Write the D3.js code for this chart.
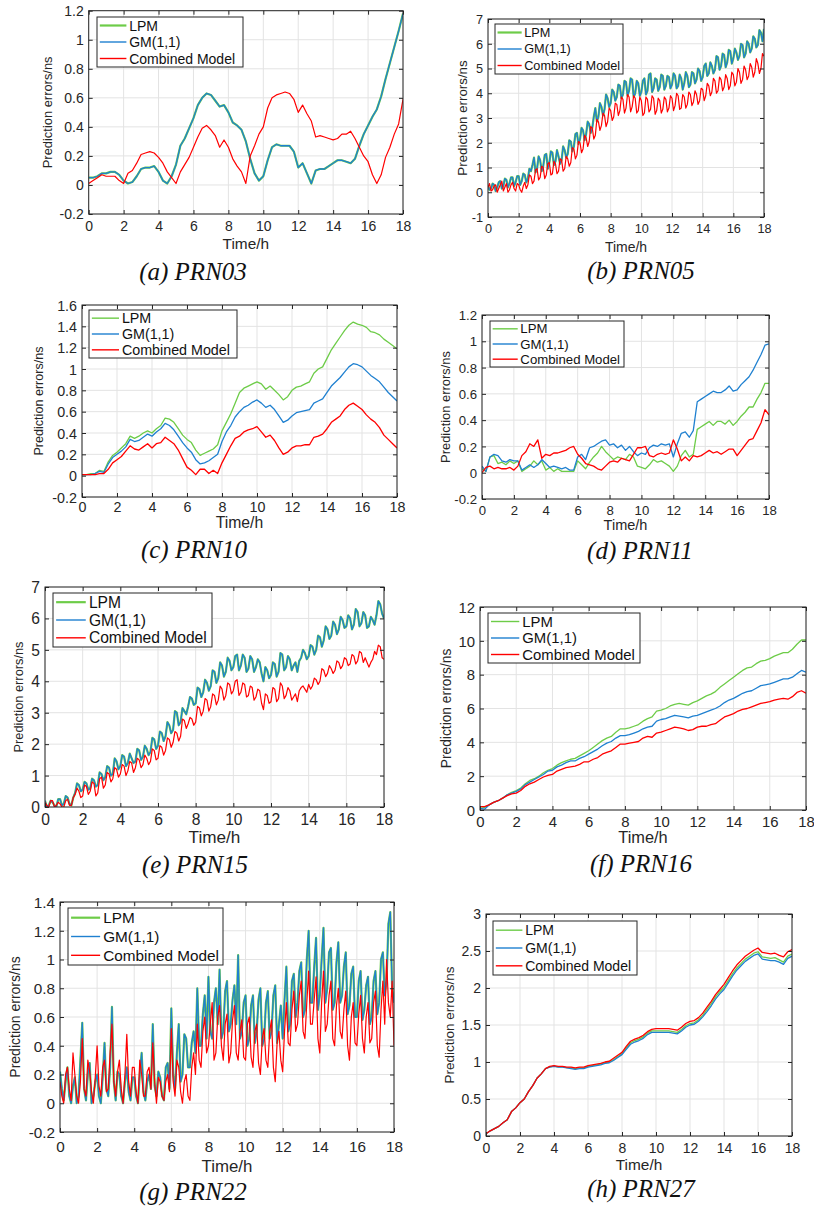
<!DOCTYPE html>
<html><head><meta charset="utf-8">
<script src="https://cdn.jsdelivr.net/npm/d3@7"></script>
<style>body{margin:0;background:#fff}</style>
</head><body><svg id="chart" width="814" height="1209"></svg>
<script>
// ---------- data ----------
const seriesNames = ["LPM", "GM(1,1)", "Combined Model"];
const xTicks = [0, 2, 4, 6, 8, 10, 12, 14, 16, 18];
const xLabel = "Time/h";
const yLabel = "Prediction errors/ns";

const ticksA = [-0.2, 0, 0.2, 0.4, 0.6, 0.8, 1, 1.2];
const ticksB = [-1, 0, 1, 2, 3, 4, 5, 6, 7];
const ticksC = [-0.2, 0, 0.2, 0.4, 0.6, 0.8, 1, 1.2, 1.4, 1.6];
const ticksD = [-0.2, 0, 0.2, 0.4, 0.6, 0.8, 1, 1.2];
const ticksE = [0, 1, 2, 3, 4, 5, 6, 7];
const ticksF = [0, 2, 4, 6, 8, 10, 12];
const ticksG = [-0.2, 0, 0.2, 0.4, 0.6, 0.8, 1, 1.2, 1.4];
const ticksH = [0, 0.5, 1, 1.5, 2, 2.5, 3];

// (a) PRN03, sampled every 0.25 h over 0..18 h
const a_gm = [0.05,0.05,0.06,0.08,0.08,0.09,0.09,0.07, 0.03,0.01,0.02,0.06,0.11,0.12,0.12,0.13,
  0.09,0.03,0.01,0.06,0.14,0.27,0.32,0.39, 0.46,0.55,0.60,0.63,0.62,0.58,0.54,0.55,
  0.50,0.43,0.41,0.38,0.30,0.18,0.08,0.03, 0.06,0.17,0.26,0.28,0.27,0.27,0.27,0.23,
  0.12,0.15,0.08,0.01,0.10,0.11,0.11,0.13, 0.15,0.17,0.17,0.16,0.15,0.18,0.27,0.35,
  0.41,0.47,0.52,0.61,0.73,0.84,0.95,1.06, 1.18];
const a_lpm = a_gm;
const a_cm = [0.01,0.03,0.05,0.07,0.06,0.06,0.06,0.03, 0.01,0.08,0.10,0.15,0.21,0.22,0.23,0.22,
  0.19,0.15,0.09,0.05,0.01,0.09,0.14,0.19, 0.26,0.33,0.39,0.41,0.38,0.34,0.26,0.31,
  0.26,0.18,0.13,0.09,0.01,0.20,0.27,0.35, 0.40,0.53,0.60,0.62,0.63,0.64,0.63,0.59,
  0.50,0.55,0.49,0.44,0.33,0.34,0.33,0.32, 0.31,0.32,0.35,0.35,0.37,0.32,0.26,0.20,
  0.16,0.07,0.01,0.07,0.19,0.26,0.35,0.42, 0.59];

// (b) PRN05, sampled every 0.1 h
const b_gm = [
  0.25,0.10,0.15,0.35,0.30,0.05,0.20,0.40,0.45,0.15,0.25,0.55,0.50,0.20,0.35,0.60,0.60,0.25,0.40,0.65,
  0.65,0.30,0.45,0.75,0.70,0.40,0.55,0.95,0.85,1.10,1.40,0.80,0.95,1.45,1.30,0.85,1.05,1.50,1.55,0.95,
  1.20,1.65,1.60,1.10,1.25,1.70,1.45,1.15,1.30,1.85,1.70,1.40,1.55,2.10,2.05,1.65,1.85,2.35,2.40,1.95,
  2.15,2.60,2.50,2.10,2.35,2.85,2.75,2.40,2.60,3.05,3.40,2.85,3.05,3.60,3.45,3.10,3.35,3.95,3.80,3.45,
  3.60,4.15,4.05,3.70,3.85,4.35,4.30,3.80,3.95,4.50,4.45,3.90,4.10,4.60,4.55,3.85,4.00,4.50,4.40,3.90,
  4.05,4.50,4.60,3.95,4.10,4.75,4.80,4.05,4.20,4.60,4.55,4.10,4.25,4.75,4.70,4.15,4.30,4.70,4.65,4.20,
  4.35,4.80,4.70,4.20,4.30,4.75,4.60,4.15,4.40,4.85,4.70,4.25,4.35,4.85,4.80,4.40,4.55,5.00,4.90,4.50,
  4.65,5.10,5.20,4.70,4.80,5.25,5.10,4.80,4.95,5.50,5.45,4.95,5.10,5.60,5.55,5.05,5.25,5.75,5.70,5.20,
  5.40,5.80,5.65,5.35,5.50,6.00,5.95,5.45,5.60,6.10,6.00,5.65,5.80,6.30,6.20,5.85,5.95,6.55,6.45,6.10,
  6.60];
const b_lpm = b_gm;
const b_cm = [
  0.20,0.35,0.05,0.10,0.25,0.30,0.00,0.15,0.30,0.45,0.05,0.20,0.35,0.00,0.10,0.30,0.40,0.15,0.05,0.35,
  0.30,0.10,0.00,0.25,0.40,0.15,0.30,0.70,0.65,0.35,0.45,0.90,0.95,0.50,0.60,1.05,1.00,0.55,0.70,1.15,
  1.20,0.70,0.75,1.25,1.15,0.75,0.85,1.35,1.30,0.85,0.95,1.45,1.35,1.05,1.20,1.80,1.75,1.35,1.50,2.05,
  2.00,1.60,1.75,2.30,2.20,1.85,2.05,2.65,2.60,2.15,2.30,2.95,2.85,2.50,2.70,3.20,3.10,2.65,2.85,3.40,
  3.30,2.90,3.05,3.60,3.55,3.10,3.30,3.85,3.75,3.20,3.40,3.95,3.85,3.25,3.45,3.90,3.80,3.20,3.30,3.85,
  3.70,3.10,3.20,3.85,3.75,3.25,3.35,3.90,3.80,3.15,3.30,3.80,3.70,3.20,3.35,3.85,3.75,3.25,3.40,3.90,
  3.80,3.30,3.50,4.00,3.90,3.35,3.40,3.95,3.85,3.40,3.55,4.05,3.95,3.50,3.65,4.10,3.95,3.55,3.70,4.20,
  4.15,3.70,3.90,4.40,4.30,3.90,4.05,4.60,4.50,4.00,4.10,4.65,4.55,4.10,4.25,4.75,4.60,4.15,4.30,4.85,
  4.75,4.30,4.45,5.00,4.85,4.40,4.55,5.10,4.95,4.55,4.70,5.20,5.05,4.65,4.85,5.40,5.20,4.80,5.00,5.60,
  5.50];

// (c) PRN10, every 0.25 h
const c_lpm = [0.01,0.01,0.02,0.02,0.05,0.04,0.13,0.19, 0.22,0.26,0.30,0.37,0.35,0.37,0.40,0.42,
  0.40,0.44,0.47,0.54,0.53,0.50,0.44,0.38, 0.34,0.31,0.24,0.19,0.21,0.23,0.25,0.29,
  0.42,0.50,0.58,0.68,0.78,0.82,0.84,0.86, 0.88,0.86,0.81,0.84,0.80,0.76,0.71,0.74,
  0.80,0.83,0.84,0.86,0.88,0.96,1.00,1.02, 1.10,1.18,1.24,1.30,1.36,1.41,1.44,1.42,
  1.41,1.39,1.35,1.34,1.32,1.28,1.25,1.22, 1.19];
const c_gm = [0.01,0.01,0.01,0.02,0.04,0.03,0.11,0.17, 0.20,0.23,0.27,0.34,0.32,0.33,0.36,0.39,
  0.37,0.41,0.44,0.49,0.47,0.43,0.37,0.31, 0.26,0.22,0.15,0.11,0.12,0.14,0.17,0.20,
  0.32,0.41,0.47,0.55,0.60,0.64,0.66,0.69, 0.71,0.68,0.64,0.66,0.62,0.56,0.50,0.52,
  0.56,0.59,0.60,0.61,0.62,0.68,0.70,0.72, 0.78,0.84,0.88,0.92,0.97,1.02,1.05,1.04,
  1.02,0.98,0.94,0.91,0.88,0.83,0.78,0.74, 0.70];
const c_cm = [0.01,0.01,0.01,0.01,0.02,0.02,0.06,0.12, 0.15,0.18,0.23,0.28,0.25,0.24,0.27,0.30,
  0.26,0.30,0.31,0.36,0.33,0.30,0.24,0.16, 0.08,0.05,0.01,0.06,0.06,0.02,0.05,0.02,
  0.12,0.20,0.28,0.35,0.37,0.41,0.43,0.44, 0.46,0.41,0.36,0.38,0.33,0.26,0.20,0.22,
  0.26,0.28,0.28,0.29,0.29,0.36,0.37,0.39, 0.44,0.50,0.53,0.56,0.62,0.66,0.68,0.65,
  0.62,0.57,0.53,0.50,0.45,0.38,0.34,0.30, 0.26];

// (d) PRN11, every 0.25 h
const d_lpm = [0.03,0.01,0.12,0.13,0.07,0.08,0.06,0.09, 0.07,0.09,0.01,0.03,0.05,0.09,0.06,0.09,
  0.02,0.04,0.01,0.03,0.01,0.01,0.01,0.01, 0.09,0.06,0.03,0.08,0.12,0.15,0.20,0.16,
  0.13,0.10,0.12,0.11,0.10,0.14,0.12,0.05, 0.04,0.03,0.06,0.10,0.08,0.09,0.07,0.05,
  0.01,0.05,0.13,0.17,0.12,0.14,0.33,0.35, 0.37,0.39,0.36,0.39,0.39,0.37,0.40,0.36,
  0.39,0.43,0.46,0.50,0.50,0.56,0.61,0.68, 0.68];
const d_gm = [0.05,0.01,0.12,0.14,0.13,0.09,0.08,0.10, 0.09,0.09,0.02,0.04,0.06,0.04,0.06,0.10,
  0.07,0.04,0.05,0.04,0.03,0.04,0.02,0.02, 0.12,0.14,0.10,0.19,0.20,0.22,0.24,0.25,
  0.21,0.22,0.19,0.21,0.17,0.20,0.16,0.13, 0.15,0.14,0.19,0.21,0.20,0.22,0.21,0.22,
  0.12,0.22,0.30,0.31,0.27,0.32,0.54,0.56, 0.58,0.60,0.62,0.61,0.61,0.63,0.66,0.62,
  0.63,0.67,0.70,0.73,0.78,0.84,0.90,0.97, 0.98];
const d_cm = [0.00,0.04,0.05,0.03,0.04,0.03,0.03,0.04, 0.02,0.05,0.13,0.16,0.22,0.20,0.25,0.11,
  0.14,0.13,0.15,0.15,0.16,0.17,0.19,0.20, 0.14,0.11,0.07,0.06,0.05,0.03,0.02,0.05,
  0.08,0.09,0.08,0.11,0.10,0.09,0.14,0.19, 0.19,0.20,0.13,0.12,0.14,0.15,0.14,0.15,
  0.25,0.18,0.09,0.12,0.09,0.13,0.12,0.13, 0.15,0.17,0.15,0.16,0.14,0.16,0.18,0.18,
  0.13,0.17,0.21,0.25,0.26,0.32,0.38,0.48, 0.44];

// (e) PRN15, every 0.1 h
const e_gm = [
  0.20,0.00,0.05,0.20,0.15,0.05,0.00,0.25,0.25,0.05,0.10,0.35,0.30,0.10,0.05,0.30,0.45,0.75,0.70,0.50,
  0.55,0.80,0.75,0.55,0.60,0.90,0.85,0.65,0.70,1.10,1.05,0.85,0.95,1.30,1.25,1.00,1.05,1.55,1.45,1.20,
  1.30,1.65,1.60,1.30,1.40,1.70,1.55,1.40,1.45,1.85,1.80,1.50,1.60,1.95,1.85,1.65,1.75,2.20,2.15,1.85,
  1.95,2.40,2.35,2.10,2.25,2.70,2.60,2.35,2.45,3.05,3.00,2.60,2.70,3.15,3.05,2.95,3.20,3.50,3.45,3.25,
  3.30,3.80,3.75,3.50,3.65,4.05,3.95,3.70,3.85,4.35,4.30,3.95,4.10,4.60,4.50,4.15,4.30,4.75,4.65,4.35,
  4.45,4.80,4.85,4.35,4.50,4.85,4.75,4.30,4.40,4.80,4.70,4.30,4.45,4.70,4.60,4.25,4.00,4.45,4.35,4.10,
  4.20,4.60,4.55,4.15,4.30,4.90,4.85,4.35,4.45,4.80,4.70,4.35,4.50,4.60,4.30,4.65,4.75,5.00,4.90,4.70,
  4.80,5.15,5.10,4.85,5.00,5.45,5.40,5.10,5.30,5.75,5.65,5.35,5.45,5.90,5.80,5.50,5.65,6.05,5.95,5.70,
  5.75,6.10,6.00,5.65,5.80,6.30,6.20,5.75,5.85,6.20,6.10,5.70,5.75,6.05,5.95,5.80,6.10,6.55,6.45,6.15,
  6.00];
const e_lpm = e_gm;
const e_cm = [
  0.15,0.05,0.00,0.20,0.20,0.00,0.05,0.15,0.10,0.00,0.00,0.20,0.25,0.05,0.05,0.30,0.40,0.60,0.50,0.30,
  0.35,0.70,0.65,0.40,0.50,0.80,0.75,0.35,0.45,0.90,0.95,0.60,0.70,1.10,1.05,0.80,0.90,1.25,1.20,0.95,
  1.05,1.35,1.30,1.00,1.15,1.45,1.40,1.10,1.25,1.55,1.50,1.25,1.35,1.65,1.55,1.35,1.45,1.85,1.80,1.50,
  1.55,1.95,1.90,1.65,1.80,2.20,2.15,1.90,2.05,2.40,2.35,2.10,2.25,2.80,2.75,2.50,2.65,2.85,2.80,2.60,
  2.70,3.20,3.15,2.90,3.05,3.45,3.40,3.05,3.20,3.60,3.55,3.25,3.40,3.85,3.75,3.40,3.55,3.95,3.90,3.60,
  3.70,4.00,4.05,3.55,3.65,3.95,3.90,3.50,3.55,3.85,3.80,3.40,3.50,3.75,3.70,3.30,3.10,3.60,3.55,3.30,
  3.35,3.80,3.75,3.35,3.45,3.95,3.85,3.45,3.55,3.80,3.70,3.40,3.50,3.60,3.35,3.70,3.80,3.85,3.75,3.65,
  3.90,3.75,3.85,4.10,4.05,3.90,4.00,4.40,4.35,4.15,4.25,4.50,4.40,4.25,4.35,4.65,4.60,4.40,4.50,4.75,
  4.70,4.50,4.55,4.85,4.80,4.55,4.65,4.95,4.90,4.60,4.75,4.60,4.45,4.60,4.70,4.95,4.85,5.15,5.10,4.75,
  4.70];

// (f) PRN16, every 0.25 h
const f_lpm = [0.10,0.15,0.30,0.45,0.55,0.70,0.90,1.05, 1.15,1.30,1.55,1.75,1.85,2.00,2.20,2.35,
  2.45,2.65,2.80,2.90,3.00,3.05,3.20,3.35, 3.50,3.70,3.90,4.10,4.25,4.35,4.60,4.80,
  4.80,4.85,4.95,5.05,5.25,5.40,5.50,5.85, 5.90,6.00,6.15,6.25,6.30,6.25,6.20,6.35,
  6.45,6.60,6.75,6.85,7.00,7.25,7.45,7.65, 7.85,8.05,8.25,8.40,8.45,8.65,8.80,8.85,
  8.95,9.10,9.20,9.30,9.30,9.50,9.80,10.05, 10.05];
const f_gm = [0.10,0.05,0.30,0.45,0.55,0.70,0.90,1.00, 1.10,1.25,1.50,1.65,1.80,1.95,2.10,2.30,
  2.35,2.55,2.65,2.80,2.90,2.90,3.05,3.15, 3.30,3.45,3.60,3.80,3.95,4.05,4.25,4.40,
  4.40,4.45,4.55,4.65,4.80,4.90,4.95,5.25, 5.35,5.40,5.50,5.60,5.55,5.50,5.45,5.55,
  5.60,5.70,5.80,5.90,6.00,6.15,6.35,6.50, 6.60,6.75,6.90,7.00,7.05,7.20,7.35,7.40,
  7.45,7.55,7.65,7.75,7.75,7.85,8.05,8.25, 8.15];
const f_cm = [0.20,0.20,0.30,0.45,0.55,0.70,0.85,0.95, 1.00,1.15,1.40,1.55,1.65,1.80,1.95,2.05,
  2.10,2.30,2.40,2.50,2.55,2.60,2.70,2.85, 2.85,3.00,3.10,3.30,3.40,3.50,3.70,3.90,
  3.90,3.95,4.00,4.05,4.25,4.35,4.30,4.55, 4.60,4.70,4.80,4.90,4.85,4.80,4.70,4.75,
  4.90,4.95,4.95,5.05,5.10,5.30,5.50,5.60, 5.70,5.85,5.95,6.00,6.10,6.20,6.30,6.35,
  6.40,6.50,6.55,6.60,6.55,6.70,6.95,7.05, 6.90];

// (g) PRN22, every 0.1 h
const g_gm = [
  0.22,0.10,0.02,0.15,0.25,0.05,0.00,0.12,0.18,0.00,0.05,0.30,0.56,0.10,0.02,0.20,0.28,0.00,0.05,0.15,
  0.20,0.05,0.00,0.18,0.42,0.10,0.05,0.25,0.67,0.15,0.02,0.22,0.20,0.05,0.00,0.15,0.25,0.08,0.02,0.18,
  0.18,0.05,0.00,0.20,0.35,0.08,0.02,0.15,0.20,0.10,0.55,0.12,0.05,0.22,0.18,0.05,0.02,0.25,0.28,0.10,
  0.66,0.20,0.10,0.35,0.55,0.15,0.20,0.48,0.45,0.25,0.25,0.42,0.50,0.35,0.80,0.40,0.40,0.62,0.75,0.45,
  0.88,0.50,0.45,0.70,0.80,0.55,0.93,0.45,0.50,0.78,0.85,0.50,0.55,0.72,0.82,0.55,1.03,0.45,0.50,0.70,
  0.75,0.40,0.45,0.68,0.75,0.42,0.50,0.72,0.80,0.40,0.45,0.70,0.78,0.45,0.50,0.75,0.82,0.42,0.55,0.68,
  0.45,0.72,0.95,0.50,0.55,0.85,0.90,0.60,0.70,0.92,0.98,0.60,0.65,1.00,1.20,0.70,0.70,0.95,1.15,0.65,
  0.75,1.00,1.22,0.70,0.80,1.05,1.08,0.65,0.70,0.98,1.12,0.70,0.75,0.95,1.05,0.62,0.68,0.90,0.95,0.60,
  0.60,0.85,0.92,0.58,0.65,0.82,0.88,0.55,0.60,0.85,0.92,0.62,0.70,1.00,1.05,0.75,0.85,1.25,1.33,0.80,
  0.70];
const g_lpm = g_gm;
const g_cm = [
  0.15,0.05,0.00,0.20,0.25,0.10,0.02,0.35,0.20,0.05,0.00,0.15,0.45,0.10,0.05,0.30,0.22,0.08,0.00,0.18,
  0.40,0.12,0.05,0.25,0.30,0.08,0.10,0.35,0.55,0.15,0.05,0.22,0.30,0.10,0.00,0.20,0.48,0.15,0.05,0.25,
  0.25,0.08,0.00,0.30,0.20,0.05,0.05,0.22,0.25,0.10,0.42,0.15,0.00,0.18,0.15,0.05,0.02,0.15,0.20,0.08,
  0.52,0.15,0.05,0.30,0.25,0.08,0.00,0.15,0.20,0.05,0.02,0.25,0.35,0.20,0.55,0.30,0.25,0.50,0.60,0.35,
  0.40,0.55,0.70,0.30,0.35,0.60,0.68,0.40,0.30,0.55,0.62,0.28,0.35,0.58,0.68,0.35,0.30,0.50,0.58,0.32,
  0.30,0.55,0.60,0.32,0.25,0.50,0.55,0.28,0.20,0.45,0.52,0.30,0.25,0.50,0.58,0.25,0.15,0.42,0.50,0.30,
  0.22,0.50,0.70,0.42,0.40,0.65,0.78,0.50,0.55,0.75,0.85,0.50,0.45,0.70,0.92,0.55,0.55,0.72,0.88,0.45,
  0.35,0.70,0.92,0.50,0.55,0.75,0.85,0.45,0.40,0.68,0.80,0.50,0.45,0.65,0.78,0.40,0.30,0.60,0.70,0.42,
  0.40,0.62,0.75,0.45,0.35,0.60,0.70,0.42,0.45,0.70,0.78,0.40,0.32,0.65,0.85,0.55,1.00,0.70,0.60,0.85,
  0.40];

// (h) PRN27, every 0.25 h
const h_lpm = [0.03,0.07,0.10,0.13,0.18,0.22,0.33,0.38, 0.45,0.50,0.60,0.68,0.78,0.84,0.91,0.935,
  0.945,0.935,0.935,0.925,0.92,0.91,0.92,0.92, 0.94,0.95,0.96,0.97,0.99,1.00,1.03,1.07,
  1.11,1.19,1.26,1.29,1.31,1.34,1.39,1.42, 1.42,1.42,1.42,1.42,1.41,1.40,1.44,1.49,
  1.52,1.53,1.57,1.63,1.71,1.79,1.88,1.95, 2.01,2.10,2.19,2.27,2.33,2.39,2.43,2.47,
  2.49,2.42,2.41,2.40,2.41,2.38,2.35,2.43, 2.46];
const h_gm = [0.03,0.07,0.10,0.13,0.18,0.22,0.33,0.38, 0.45,0.50,0.60,0.68,0.78,0.84,0.91,0.93,
  0.94,0.93,0.93,0.92,0.91,0.90,0.91,0.91, 0.93,0.94,0.95,0.96,0.98,0.99,1.02,1.06,
  1.10,1.17,1.24,1.27,1.29,1.32,1.37,1.40, 1.40,1.40,1.40,1.40,1.39,1.38,1.42,1.47,
  1.50,1.51,1.55,1.61,1.68,1.76,1.85,1.92, 1.98,2.07,2.16,2.24,2.30,2.36,2.40,2.44,
  2.46,2.39,2.38,2.37,2.37,2.35,2.32,2.40, 2.43];
const h_cm = [0.03,0.07,0.10,0.13,0.18,0.22,0.33,0.38, 0.45,0.50,0.60,0.68,0.78,0.84,0.91,0.94,
  0.95,0.94,0.94,0.93,0.93,0.92,0.93,0.93, 0.95,0.96,0.97,0.98,1.00,1.01,1.05,1.09,
  1.13,1.21,1.28,1.31,1.33,1.36,1.41,1.44, 1.45,1.45,1.45,1.45,1.44,1.43,1.47,1.52,
  1.55,1.56,1.60,1.66,1.74,1.82,1.91,1.98, 2.05,2.14,2.23,2.31,2.37,2.43,2.47,2.51,
  2.54,2.48,2.47,2.46,2.47,2.44,2.42,2.49, 2.52];

const captions = ["(a) PRN03","(b) PRN05","(c) PRN10","(d) PRN11","(e) PRN15","(f) PRN16","(g) PRN22","(h) PRN27"];
const timeSpan = 18;
const seriesByPanel = [
  [a_lpm, a_gm, a_cm], [b_lpm, b_gm, b_cm], [c_lpm, c_gm, c_cm], [d_lpm, d_gm, d_cm],
  [e_lpm, e_gm, e_cm], [f_lpm, f_gm, f_cm], [g_lpm, g_gm, g_cm], [h_lpm, h_gm, h_cm]
];
const yTicksByPanel = [ticksA, ticksB, ticksC, ticksD, ticksE, ticksF, ticksG, ticksH];

// ---------- layout (pixels) ----------
const layout = [
  {box:[88.7,10.7,403,214],  leg:[97,17,243,67],   f:14,   yf:12.9, ylx:47,  cap:[193,280],  xt:17, xl:35, thick:true},
  {box:[488,19,764,217],     leg:[495,24,623,74],  f:12.7, yf:13.3, ylx:462, cap:[641,279],  xt:16, xl:35, thick:true},
  {box:[82,305,397,497],     leg:[89,310,237,358], f:14.3, yf:12.6, ylx:39,  cap:[194,558],  xt:15, xl:31, thick:false},
  {box:[482,315,769,499],    leg:[490,321,624,367],f:13.2, yf:12.9, ylx:445, cap:[640,559],  xt:16, xl:31, thick:false},
  {box:[45,587,384,807],     leg:[53,593,212,647], f:15.6, yf:12.8, ylx:18,  cap:[195,873],  xt:18, xl:36, thick:true},
  {box:[480,607,806,810],    leg:[488,613,640,663],f:14.9, yf:13.8, ylx:446, cap:[641,872],  xt:17, xl:33, thick:false},
  {box:[60,902,394,1132],    leg:[68,908,223,965], f:15.3, yf:14.0, ylx:15,  cap:[193,1200], xt:20, xl:40, thick:true},
  {box:[486,914,792,1136],   leg:[493,921,637,975],f:14,   yf:13.5, ylx:449, cap:[641,1197], xt:17, xl:34, thick:false}
];
const colors = ["#6dcc48", "#1f80d0", "#ff0000"];
const sansFont = "'Liberation Sans', Arial, Helvetica, sans-serif";
const serifFont = "'Liberation Serif', 'Times New Roman', serif";
const textColor = "#262626";

const svg = d3.select("#chart");
svg.append("rect").attr("width", 814).attr("height", 1209).attr("fill", "#fff");

layout.forEach((L, p) => {
  const [x0, y0, x1, y1] = L.box;
  const yt = yTicksByPanel[p];
  const x = d3.scaleLinear().domain([0, timeSpan]).range([x0, x1]);
  const y = d3.scaleLinear().domain([yt[0], yt[yt.length - 1]]).range([y1, y0]);
  const g = svg.append("g");
  const fmt = d => String(d);

  // grid
  const grid = g.append("g").attr("stroke", "#e3e3e3").attr("stroke-width", 1);
  xTicks.forEach(t => grid.append("line").attr("x1", x(t)).attr("x2", x(t)).attr("y1", y0).attr("y2", y1));
  yt.forEach(t => grid.append("line").attr("x1", x0).attr("x2", x1).attr("y1", y(t)).attr("y2", y(t)));

  // lines
  const clipId = "clip" + p;
  svg.append("clipPath").attr("id", clipId).append("rect")
    .attr("x", x0).attr("y", y0).attr("width", x1 - x0).attr("height", y1 - y0);
  const widths = L.thick ? [2.2, 1.3, 1.2] : [1.3, 1.3, 1.3];
  seriesByPanel[p].forEach((s, k) => {
    const line = d3.line().x((d, i) => x(i * timeSpan / (s.length - 1))).y(d => y(d));
    g.append("path").datum(s).attr("clip-path", `url(#${clipId})`)
      .attr("d", line).attr("fill", "none").attr("stroke", colors[k])
      .attr("stroke-width", widths[k]).attr("stroke-linejoin", "round");
  });

  // axes (ticks inward)
  const tickFont = L.f;
  const bottom = g.append("g").attr("transform", `translate(0,${y1})`)
    .call(d3.axisBottom(x).tickValues(xTicks).tickFormat(fmt).tickSizeInner(-4).tickSizeOuter(0));
  const top = g.append("g").attr("transform", `translate(0,${y0})`)
    .call(d3.axisTop(x).tickValues(xTicks).tickFormat("").tickSizeInner(-4).tickSizeOuter(0));
  const left = g.append("g").attr("transform", `translate(${x0},0)`)
    .call(d3.axisLeft(y).tickValues(yt).tickFormat(fmt).tickSizeInner(-4).tickSizeOuter(0).tickPadding(5));
  const right = g.append("g").attr("transform", `translate(${x1},0)`)
    .call(d3.axisRight(y).tickValues(yt).tickFormat("").tickSizeInner(-4).tickSizeOuter(0));
  [bottom, top, left, right].forEach(a => {
    a.select(".domain").remove();
    a.selectAll("line").attr("stroke", "#262626");
    a.selectAll("text").attr("fill", textColor).style("font-family", sansFont).style("font-size", tickFont + "px");
  });
  bottom.selectAll("text").attr("dy", null).attr("y", L.xt);
  left.selectAll("text").attr("dy", "0.35em");

  // box
  g.append("rect").attr("x", x0).attr("y", y0).attr("width", x1 - x0).attr("height", y1 - y0)
    .attr("fill", "none").attr("stroke", "#262626").attr("stroke-width", 1);

  // axis labels
  g.append("text").attr("x", (x0 + x1) / 2).attr("y", y1 + L.xl).attr("text-anchor", "middle")
    .attr("fill", textColor).style("font-family", sansFont).style("font-size", (L.f * 1.1) + "px").text(xLabel);
  g.append("text").attr("transform", `translate(${L.ylx},${(y0 + y1) / 2}) rotate(-90)`)
    .attr("text-anchor", "middle").attr("dominant-baseline", "central")
    .attr("fill", textColor).style("font-family", sansFont).style("font-size", L.yf + "px").text(yLabel);

  // legend
  const [lx0, ly0, lx1, ly1] = L.leg;
  const lg = g.append("g");
  lg.append("rect").attr("x", lx0).attr("y", ly0).attr("width", lx1 - lx0).attr("height", ly1 - ly0)
    .attr("fill", "#fff").attr("stroke", "#262626").attr("stroke-width", 1);
  const rows = [0.17, 0.5, 0.83];
  seriesNames.forEach((name, k) => {
    const ry = ly0 + (ly1 - ly0) * rows[k];
    lg.append("line").attr("x1", lx0 + 0.2 * L.f).attr("x2", lx0 + 2.1 * L.f).attr("y1", ry).attr("y2", ry)
      .attr("stroke", colors[k]).attr("stroke-width", k === 0 && L.thick ? 2.2 : 1.4);
    lg.append("text").attr("x", lx0 + 2.3 * L.f).attr("y", ry).attr("dominant-baseline", "central")
      .attr("fill", "#111").style("font-family", sansFont).style("font-size", L.f + "px").text(name);
  });

  // caption
  g.append("text").attr("x", L.cap[0]).attr("y", L.cap[1]).attr("text-anchor", "middle")
    .attr("fill", "#111").style("font-family", serifFont).style("font-style", "italic")
    .style("font-size", "25px").text(captions[p]);
});
</script>
</body></html>
